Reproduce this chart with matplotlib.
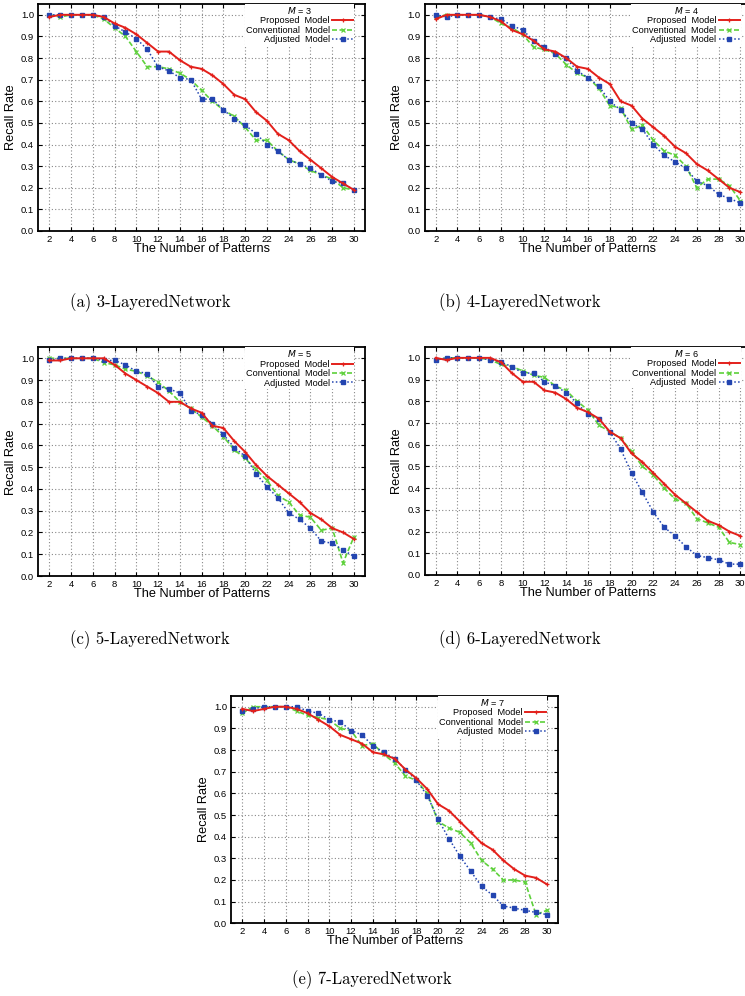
import matplotlib
matplotlib.use("Agg")
import matplotlib.pyplot as plt

# number of stored patterns (x axis)
patterns = list(range(2, 31))

# (a) M = 3
prop_m3 = [0.99, 1.00, 1.00, 1.00, 1.00, 0.99, 0.96, 0.94, 0.91, 0.87, 0.83, 0.83, 0.79, 0.76, 0.75,
           0.72, 0.68, 0.63, 0.61, 0.55, 0.51, 0.45, 0.42, 0.37, 0.33, 0.29, 0.25, 0.22, 0.19]
conv_m3 = [1.00, 0.99, 1.00, 1.00, 1.00, 0.98, 0.94, 0.90, 0.83, 0.76, 0.76, 0.75, 0.73, 0.70, 0.65,
           0.60, 0.56, 0.53, 0.48, 0.42, 0.42, 0.37, 0.33, 0.31, 0.28, 0.26, 0.24, 0.20, 0.19]
adj_m3 = [1.00, 1.00, 1.00, 1.00, 1.00, 0.99, 0.95, 0.92, 0.89, 0.84, 0.76, 0.74, 0.71, 0.70, 0.61,
          0.61, 0.56, 0.52, 0.49, 0.45, 0.40, 0.37, 0.33, 0.31, 0.29, 0.26, 0.23, 0.22, 0.19]

# (b) M = 4
prop_m4 = [0.98, 1.00, 1.00, 1.00, 1.00, 0.99, 0.97, 0.93, 0.91, 0.88, 0.84, 0.83, 0.80, 0.76, 0.75,
           0.71, 0.68, 0.60, 0.58, 0.52, 0.48, 0.44, 0.39, 0.36, 0.31, 0.28, 0.24, 0.20, 0.18]
conv_m4 = [0.99, 1.00, 1.00, 1.00, 1.00, 0.99, 0.96, 0.94, 0.91, 0.85, 0.84, 0.82, 0.77, 0.73, 0.71,
           0.66, 0.58, 0.57, 0.47, 0.49, 0.42, 0.37, 0.35, 0.30, 0.20, 0.24, 0.24, 0.21, 0.14]
adj_m4 = [1.00, 0.99, 1.00, 1.00, 1.00, 0.99, 0.98, 0.95, 0.93, 0.88, 0.85, 0.82, 0.80, 0.74, 0.71,
          0.67, 0.60, 0.56, 0.50, 0.47, 0.40, 0.35, 0.32, 0.29, 0.23, 0.21, 0.17, 0.15, 0.13]

# (c) M = 5
prop_m5 = [0.99, 0.99, 1.00, 1.00, 1.00, 1.00, 0.97, 0.93, 0.90, 0.87, 0.84, 0.80, 0.80, 0.77, 0.75,
           0.69, 0.68, 0.62, 0.57, 0.51, 0.46, 0.42, 0.38, 0.34, 0.29, 0.26, 0.22, 0.20, 0.17]
conv_m5 = [1.00, 1.00, 1.00, 1.00, 1.00, 0.98, 0.97, 0.95, 0.94, 0.92, 0.89, 0.85, 0.80, 0.77, 0.73,
           0.69, 0.64, 0.58, 0.54, 0.49, 0.44, 0.37, 0.34, 0.28, 0.27, 0.21, 0.22, 0.06, 0.18]
adj_m5 = [0.99, 1.00, 1.00, 1.00, 1.00, 0.99, 0.99, 0.97, 0.94, 0.93, 0.87, 0.86, 0.84, 0.76, 0.74,
          0.70, 0.65, 0.59, 0.55, 0.47, 0.41, 0.36, 0.29, 0.26, 0.22, 0.16, 0.15, 0.12, 0.09]

# (d) M = 6
prop_m6 = [1.00, 0.99, 1.00, 1.00, 1.00, 1.00, 0.98, 0.93, 0.89, 0.89, 0.85, 0.84, 0.81, 0.77, 0.75,
           0.72, 0.66, 0.63, 0.56, 0.52, 0.47, 0.42, 0.37, 0.33, 0.29, 0.25, 0.23, 0.20, 0.18]
conv_m6 = [0.99, 1.00, 1.00, 1.00, 1.00, 0.99, 0.97, 0.96, 0.94, 0.92, 0.91, 0.87, 0.85, 0.80, 0.76,
           0.69, 0.66, 0.63, 0.57, 0.50, 0.46, 0.40, 0.35, 0.33, 0.26, 0.24, 0.22, 0.15, 0.14]
adj_m6 = [0.99, 1.00, 1.00, 1.00, 1.00, 0.99, 0.98, 0.96, 0.93, 0.93, 0.89, 0.87, 0.84, 0.79, 0.74,
          0.72, 0.66, 0.58, 0.47, 0.38, 0.29, 0.22, 0.18, 0.13, 0.09, 0.08, 0.07, 0.05, 0.05]

# (e) M = 7
prop_m7 = [0.99, 0.98, 0.99, 1.00, 1.00, 0.99, 0.97, 0.94, 0.91, 0.87, 0.85, 0.83, 0.79, 0.78, 0.76,
           0.71, 0.67, 0.62, 0.55, 0.52, 0.47, 0.42, 0.37, 0.34, 0.29, 0.25, 0.22, 0.21, 0.18]
conv_m7 = [0.97, 1.00, 1.00, 1.00, 1.00, 0.98, 0.96, 0.95, 0.94, 0.90, 0.89, 0.82, 0.83, 0.78, 0.74,
           0.68, 0.66, 0.60, 0.47, 0.44, 0.42, 0.37, 0.29, 0.25, 0.20, 0.20, 0.19, 0.04, 0.06]
adj_m7 = [0.98, 0.99, 1.00, 1.00, 1.00, 1.00, 0.98, 0.97, 0.94, 0.93, 0.89, 0.87, 0.82, 0.79, 0.76,
          0.71, 0.66, 0.59, 0.48, 0.39, 0.31, 0.24, 0.17, 0.13, 0.08, 0.07, 0.06, 0.05, 0.04]

layers = [3, 4, 5, 6, 7]
captions = ["(a) 3-LayeredNetwork", "(b) 4-LayeredNetwork", "(c) 5-LayeredNetwork",
            "(d) 6-LayeredNetwork", "(e) 7-LayeredNetwork"]
proposed = [prop_m3, prop_m4, prop_m5, prop_m6, prop_m7]
conventional = [conv_m3, conv_m4, conv_m5, conv_m6, conv_m7]
adjusted = [adj_m3, adj_m4, adj_m5, adj_m6, adj_m7]

W, H = 745, 996
# axes boxes in pixels: left, top, right, bottom
boxes = [(38.4, 4, 364.8, 231), (424.8, 4, 751.2, 231),
         (38.4, 347.4, 364.8, 576), (424.8, 347, 751.2, 575),
         (231.4, 695.9, 557.8, 923.3)]
cap_pos = [(150, 303), (520, 303), (150, 640), (520, 640), (372, 980)]

SANS = "Liberation Sans"
RED, GREEN, BLUE = "#e3201b", "#5ed13b", "#2345b0"

fig = plt.figure(figsize=(W / 100, H / 100), dpi=100)

for i, M in enumerate(layers):
    l, t, r, b = boxes[i]
    ax = fig.add_axes([l / W, 1 - b / H, (r - l) / W, (b - t) / H])
    ax.plot(patterns, proposed[i], color=RED, lw=1.4, marker="+", ms=3.5, mew=0.9,
            label="Proposed  Model", zorder=4)
    ax.plot(patterns, conventional[i], color=GREEN, lw=1.2, ls=(0, (3, 1.5)), marker="x",
            ms=3, mew=0.9, label="Conventional  Model", zorder=3)
    ax.plot(patterns, adjusted[i], color=BLUE, lw=1.1, ls=(0, (1, 1.5)), marker="s",
            ms=3, label="Adjusted  Model", zorder=3)
    ax.set_xlim(1, 31)
    ax.set_ylim(0, 1.05)
    ax.set_xticks(range(2, 31, 2))
    ax.set_yticks([k / 10 for k in range(11)])
    ax.set_yticklabels([f"{k / 10:.1f}" for k in range(11)])
    ax.grid(True, color="#888888", ls=(0, (1, 2)), lw=0.8)
    ax.tick_params(direction="in", length=3, width=0.8, top=True, right=True,
                   labelsize=6.8, pad=3)
    for lab in ax.get_xticklabels() + ax.get_yticklabels():
        lab.set_family(SANS)
    for s in ax.spines.values():
        s.set_linewidth(1.3)
    ax.set_xlabel("The Number of Patterns", family=SANS, fontsize=9.2, labelpad=-1)
    ax.set_ylabel("Recall Rate", family=SANS, fontsize=9.2, labelpad=3)
    leg = ax.legend(loc="upper right", bbox_to_anchor=(0.968, 1.0), markerfirst=False,
                    title=f"$M$ = {M}", title_fontsize=6.6, frameon=True, framealpha=1,
                    edgecolor="none", facecolor="white", fancybox=False, borderpad=0.1,
                    labelspacing=0.05, handlelength=2.3, handletextpad=0.25,
                    borderaxespad=0, prop={"family": SANS, "size": 6.6}, alignment="center")
    leg.get_title().set_family(SANS)
    for txt in leg.get_texts():
        txt.set_ha("right")
    cx, cy = cap_pos[i]
    fig.text(cx / W, 1 - cy / H, captions[i], family="cmr10", fontsize=12,
             ha="center", va="center")

fig.savefig("out.png", dpi=100)
